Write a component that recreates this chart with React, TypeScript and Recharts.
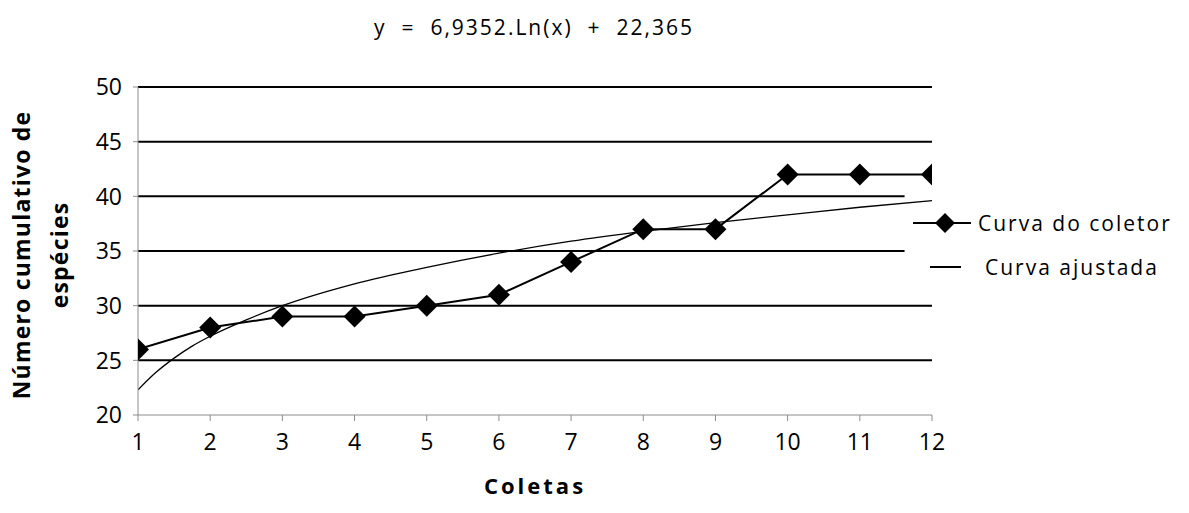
import { LineChart, Line, XAxis, YAxis, CartesianGrid, ReferenceArea } from 'recharts'

const coletas = [1, 2, 3, 4, 5, 6, 7, 8, 9, 10, 11, 12]
const especies = [26, 28, 29, 29, 30, 31, 34, 37, 37, 42, 42, 42]

// curva ajustada
const ajusteX = [1, 1.25, 1.5, 1.75, 2, 2.5, 3, 4, 5, 6, 7, 8, 9, 10, 11, 12]
const ajusteY = [22.3, 23.9, 25.2, 26.3, 27.2, 28.7, 30.0, 32.0, 33.5, 34.8, 35.9, 36.8, 37.6, 38.3, 39.0, 39.6]

const yTicks = [20, 25, 30, 35, 40, 45, 50]
const gridValues = [25, 30, 35, 40, 45, 50]

const coletor = coletas.map((x, i) => ({ x, y: especies[i] }))
const ajustada = ajusteX.map((x, i) => ({ x, y: ajusteY[i] }))

const FONT = '"Open Sans", sans-serif'
const TICK_SIZE = 23

function Diamond(props: any) {
  const { cx, cy } = props
  if (cx == null || cy == null) return null
  const r = 11
  return <path d={`M${cx},${cy - r} L${cx + r},${cy} L${cx},${cy + r} L${cx - r},${cy} Z`} fill="#000" />
}

function XTick(props: any) {
  const { x, y, payload } = props
  return (
    <text x={x} y={y + 3} dy="0.71em" textAnchor="middle" style={{ fontFamily: FONT, fontSize: TICK_SIZE }} fill="#000">
      {payload.value}
    </text>
  )
}

function YTick(props: any) {
  const { x, y, payload } = props
  return (
    <text x={x - 1} y={y} dy="0.36em" textAnchor="end" style={{ fontFamily: FONT, fontSize: TICK_SIZE }} fill="#000">
      {payload.value}
    </text>
  )
}

function YLabel() {
  return (
    <text transform="translate(0,255) rotate(-90)" textAnchor="middle" fill="#000" style={{ fontFamily: FONT, fontWeight: 'bold', fontSize: 23, letterSpacing: 1.2 }}>
      <tspan x={0} y={30}>Número cumulativo de</tspan>
      <tspan x={0} y={68}>espécies</tspan>
    </text>
  )
}

export default function App() {
  return (
    <div style={{ position: 'absolute', left: 0, top: 0, width: 1189, height: 513, background: '#fff' }}>
      <div style={{ position: 'absolute', left: 0, width: 1068, top: 13, textAlign: 'center', fontFamily: FONT, fontSize: 21, letterSpacing: 2, whiteSpace: 'pre', color: '#000' }}>
        {'y  =  6,9352.Ln(x)  +  22,365'}
      </div>
      <LineChart width={1189} height={513} margin={{ top: 87, right: 257, bottom: 8, left: 78 }} style={{ position: 'absolute', left: 0, top: 0 }}>
        <CartesianGrid horizontal vertical={false} horizontalValues={gridValues} stroke="#000" strokeWidth={2} />
        <ReferenceArea x1={11.62} x2={12} y1={33} y2={41} fill="#fff" fillOpacity={1} stroke="none" />
        <XAxis
          type="number"
          dataKey="x"
          domain={[1, 12]}
          ticks={coletas}
          allowDataOverflow
          stroke="#8c8c8c"
          tickSize={6}
          tickMargin={10}
          height={90}
          tick={<XTick />}
          label={{ value: 'Coletas', position: 'insideBottom', offset: 11, style: { fontFamily: FONT, fontWeight: 'bold', fontSize: 22, fill: '#000', letterSpacing: 3 } }}
        />
        <YAxis
          type="number"
          domain={[20, 50]}
          ticks={yTicks}
          width={60}
          stroke="#8c8c8c"
          tickSize={5}
          tickMargin={10}
          tick={<YTick />}
          label={<YLabel />}
        />
        <Line data={ajustada} dataKey="y" type="monotone" stroke="#000" strokeWidth={1.3} dot={false} isAnimationActive={false} />
        <Line data={coletor} dataKey="y" type="linear" stroke="#000" strokeWidth={2} dot={<Diamond />} isAnimationActive={false} />
      </LineChart>
      <div style={{ position: 'absolute', left: 910, top: 208, fontFamily: FONT, fontSize: 21, color: '#000' }}>
        <div style={{ display: 'flex', alignItems: 'center', height: 30 }}>
          <svg width={62} height={24}>
            <line x1={3} y1={12} x2={61} y2={12} stroke="#000" strokeWidth={2} />
            <path d="M35,2 L45,12 L35,22 L25,12 Z" fill="#000" />
          </svg>
          <span style={{ marginLeft: 6, letterSpacing: 2 }}>Curva do coletor</span>
        </div>
        <div style={{ display: 'flex', alignItems: 'center', height: 30, marginTop: 14 }}>
          <svg width={62} height={24}>
            <line x1={20} y1={12} x2={51} y2={12} stroke="#000" strokeWidth={2} />
          </svg>
          <span style={{ marginLeft: 13, letterSpacing: 2 }}>Curva ajustada</span>
        </div>
      </div>
    </div>
  )
}
